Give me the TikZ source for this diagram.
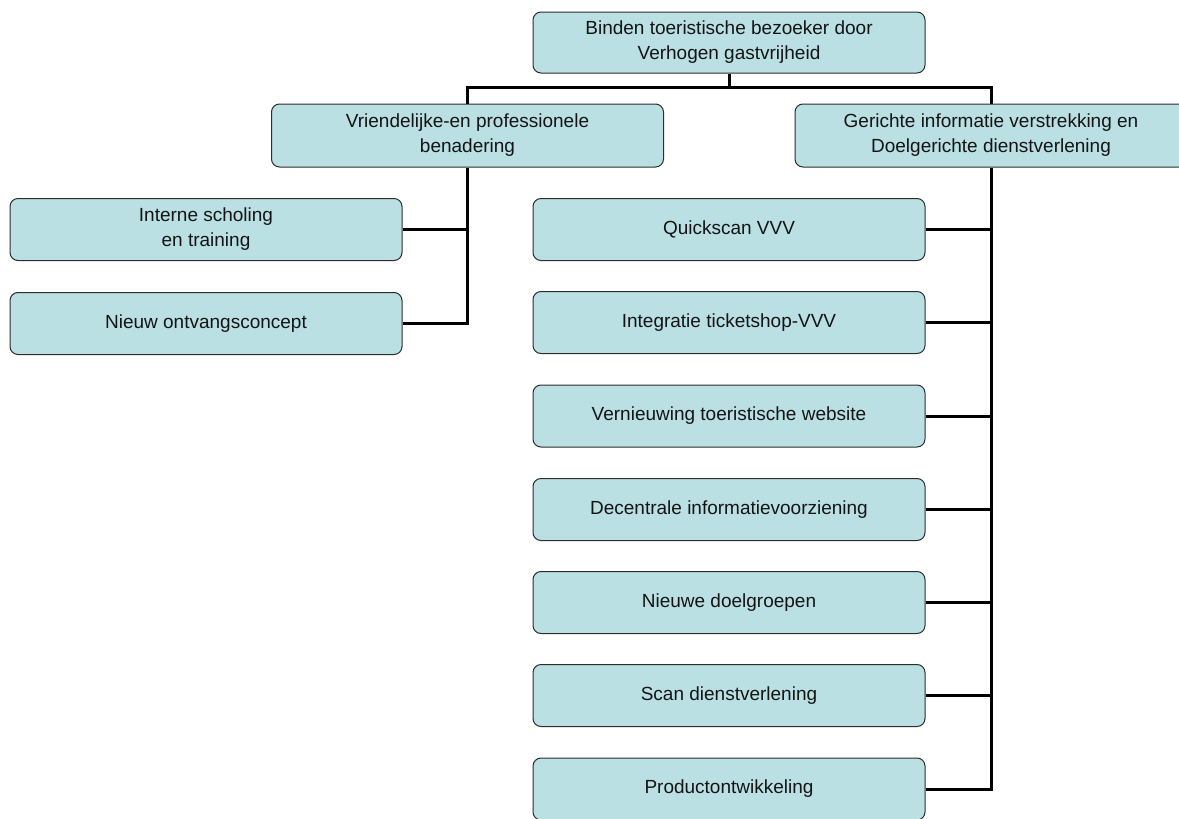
\documentclass[tikz,border=0pt]{standalone}
\usepackage{fontspec}
\setmainfont{Liberation Sans}
\definecolor{boxfill}{RGB}{186,224,227}
\definecolor{boxline}{RGB}{45,45,45}
\definecolor{txt}{RGB}{20,20,20}
\tikzset{
  boxnode/.style={draw=boxline, fill=boxfill, rounded corners=8pt, line width=1pt,
    minimum width=392pt, minimum height=62pt, inner sep=0pt, align=center,
    text=txt, font=\fontsize{19}{25}\selectfont},
  conn/.style={draw=black, line width=3pt, line join=miter}
}
\begin{document}
\begin{tikzpicture}[x=1pt,y=-1pt]
\useasboundingbox (0,0) rectangle (1179,819);
\node[boxnode, minimum height=61pt] (top) at (729,42.5) {Binden toeristische bezoeker door\\Verhogen gastvrijheid};
\node[boxnode, minimum height=63pt] (la) at (467.5,135.5) {Vriendelijke-en professionele\\benadering};
\node[boxnode, minimum height=63pt] (ra) at (991,135.5) {Gerichte informatie verstrekking en\\Doelgerichte dienstverlening};
\node[boxnode] (l1) at (206,229.5) {Interne scholing\\en training};
\node[boxnode] (l2) at (206,323.5) {Nieuw ontvangsconcept};
\node[boxnode] (r1) at (729,229.5) {Quickscan VVV};
\node[boxnode] (r2) at (729,322.5) {Integratie ticketshop-VVV};
\node[boxnode] (r3) at (729,416) {Vernieuwing toeristische website};
\node[boxnode] (r4) at (729,509.5) {Decentrale informatievoorziening};
\node[boxnode] (r5) at (729,602.5) {Nieuwe doelgroepen};
\node[boxnode] (r6) at (729,695.5) {Scan dienstverlening};
\node[boxnode] (r7) at (729,789) {Productontwikkeling};
\coordinate (bus) at (729,87);
\draw[conn] (top.south) -- (bus);
\draw[conn] (la.north) |- (bus) -| (ra.north);
\draw[conn] (la.south) |- (l2.east);
\draw[conn] (l1.east) -- (l1.east -| la.south);
\draw[conn] (ra.south) |- (r7.east);
\foreach \n in {r1,r2,r3,r4,r5,r6}{
  \draw[conn] (\n.east) -- (\n.east -| ra.south);
}
\end{tikzpicture}
\end{document}
